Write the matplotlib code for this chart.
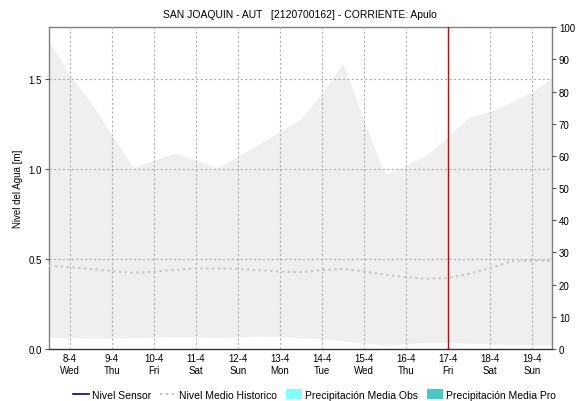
import matplotlib
matplotlib.use("Agg")
import matplotlib.pyplot as plt
from matplotlib.lines import Line2D
from matplotlib.patches import Patch
import numpy as np

plt.rcParams['font.family'] = ['Liberation Sans', 'DejaVu Sans']

# Day labels for the x axis
day_labels = ["8-4", "9-4", "10-4", "11-4", "12-4", "13-4", "14-4",
              "15-4", "16-4", "17-4", "18-4", "19-4"]
weekdays = ["Wed", "Thu", "Fri", "Sat", "Sun", "Mon", "Tue",
            "Wed", "Thu", "Fri", "Sat", "Sun"]

# Sample times, in days from 8-4 (half-day steps)
t_days = [-0.5, 0.0, 0.5, 1.0, 1.5, 2.0, 2.5, 3.0, 3.5, 4.0, 4.5, 5.0, 5.5,
          6.0, 6.5, 7.0, 7.5, 8.0, 8.5, 9.0, 9.5, 10.0, 10.5, 11.0, 11.5]

# Historical envelope of water level [m]
hist_max = [1.71, 1.52, 1.37, 1.19, 1.01, 1.05, 1.09, 1.05, 1.01, 1.07, 1.14,
            1.21, 1.28, 1.42, 1.59, 1.27, 0.97, 1.02, 1.08, 1.18, 1.29, 1.32,
            1.37, 1.43, 1.51]
hist_min = [0.065, 0.063, 0.062, 0.062, 0.063, 0.065, 0.067, 0.066, 0.064,
            0.066, 0.072, 0.070, 0.062, 0.058, 0.045, 0.035, 0.020, 0.030,
            0.036, 0.037, 0.032, 0.028, 0.025, 0.022, 0.022]
# Historical mean water level [m]
hist_mean = [0.463, 0.455, 0.445, 0.433, 0.423, 0.430, 0.440, 0.448, 0.448,
             0.445, 0.438, 0.431, 0.427, 0.439, 0.446, 0.432, 0.413, 0.400,
             0.390, 0.395, 0.418, 0.450, 0.487, 0.491, 0.491]

current_day = 9  # 17-4

fig = plt.figure(figsize=(5.77, 4.02), dpi=100)
ax = fig.add_axes([0.0849, 0.1294, 0.8718, 0.8006])

ax.fill_between(t_days, hist_min, hist_max, color="#efefef", lw=0, zorder=1)
ax.plot(t_days, hist_mean, color="#c8c8c8", lw=1.5, ls=(0, (1.2, 1.6)), zorder=3)
ax.axvline(current_day, color="#b01010", lw=1.0, zorder=4)

ax.set_xlim(-0.5, 11.48)
ax.set_ylim(0, 1.79)
ax.set_yticks([0.0, 0.5, 1.0, 1.5])
ax.set_yticklabels(["0.0", "0.5", "1.0", "1.5"], fontsize=7)
ax.set_xticks(range(len(day_labels)))
ax.set_xticklabels([f"{d}\n{w}" for d, w in zip(day_labels, weekdays)],
                   fontsize=7, linespacing=1.25)
ax.tick_params(axis="x", length=0, pad=3)
ax.tick_params(axis="y", length=3, width=0.8, color="#555555", pad=2)
ax.grid(True, color="#b0b0b0", ls=(0, (2, 2)), lw=0.8, zorder=2)
ax.set_axisbelow(False)
for s in ["left", "top", "right"]:
    ax.spines[s].set_color("#808080")
    ax.spines[s].set_linewidth(1.0)
ax.spines["bottom"].set_color("#333333")
ax.spines["bottom"].set_linestyle((0, (1, 1)))
ax.spines["bottom"].set_linewidth(1.0)
ax.set_ylabel("Nivel del Agua [m]", fontsize=7, labelpad=4)

ax2 = ax.twinx()
ax2.set_ylim(0, 100)
ax2.set_yticks(range(0, 101, 10))
ax2.set_yticklabels([str(v) for v in range(0, 101, 10)], fontsize=7)
ax2.tick_params(axis="y", length=3, width=0.8, color="#555555", pad=2)
for s in ax2.spines.values():
    s.set_visible(False)

fig.text(0.52, 0.962, "SAN JOAQUIN - AUT   [2120700162] - CORRIENTE: Apulo",
         ha="center", va="center", fontsize=7.5)

handles = [
    Line2D([], [], color="#000080", lw=1.2),
    Line2D([], [], color="#c8c8c8", lw=1.5, ls=(0, (1.2, 1.6))),
    Patch(facecolor="#80ffff", edgecolor="none"),
    Patch(facecolor="#48c8c8", edgecolor="none"),
]
labels = ["Nivel Sensor", "Nivel Medio Historico",
          "Precipitación Media Obs", "Precipitación Media Pro"]
fig.legend(handles, labels, loc="center", bbox_to_anchor=(0.545, 0.016),
           ncol=4, frameon=False, fontsize=7.5, handlelength=1.5,
           handleheight=1.0, handletextpad=0.3, columnspacing=0.9)

fig.savefig("out.png", dpi=100)
